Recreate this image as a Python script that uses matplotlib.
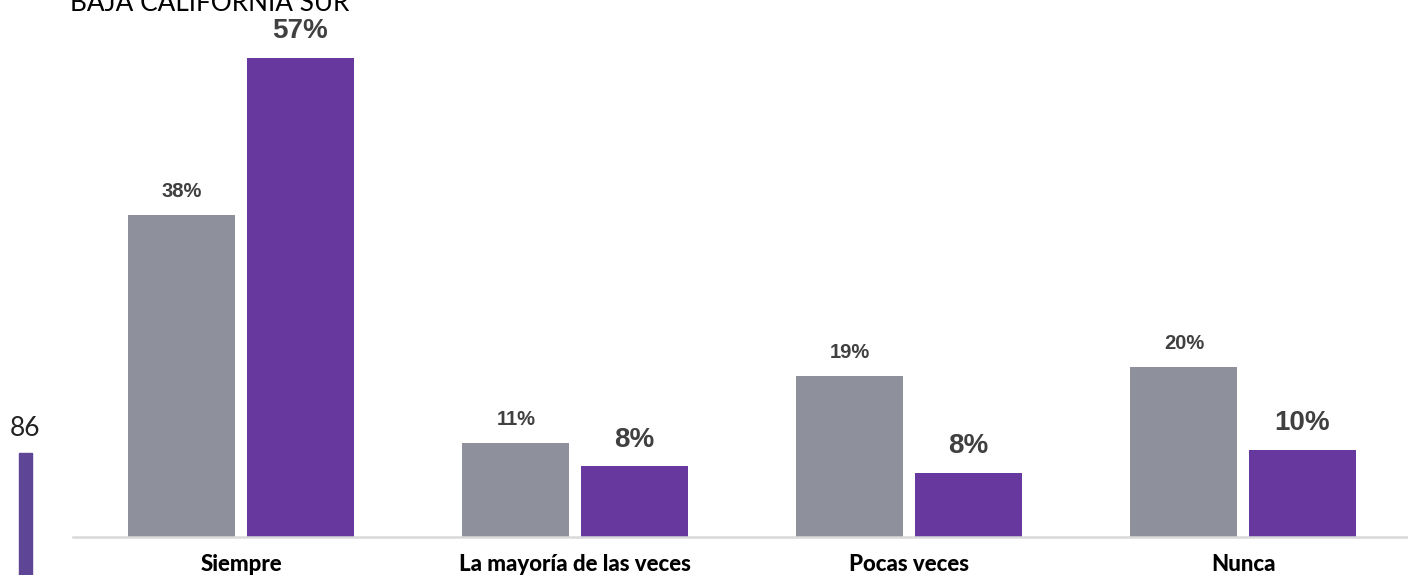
import matplotlib
matplotlib.use('Agg')

import matplotlib.pyplot as plt
import numpy as np
from matplotlib.patches import Rectangle

# Data
categories = ['Siempre', 'La mayoría de las veces', 'Pocas veces', 'Nunca']
gray_vals = [38.3, 11.2, 19.2, 20.2]
purple_vals = [57.0, 8.4, 7.6, 10.4]
gray_labels = ['38%', '11%', '19%', '20%']
purple_labels = ['57%', '8%', '8%', '10%']

gray = '#8e919c'
purple = '#67399f'

fig = plt.figure(figsize=(14.08, 5.75), dpi=100)
ax = fig.add_axes([73 / 1408, 38 / 575, 1 - 73 / 1408, 537 / 575])

x = np.arange(len(categories))
w = 0.32
off = 0.177
ax.bar(x - off, gray_vals, w, color=gray, zorder=2)
ax.bar(x + off, purple_vals, w, color=purple, zorder=2)

# value labels
for xi, v, lab in zip(x, gray_vals, gray_labels):
    ax.annotate(lab, (xi - off, v), xytext=(0, 10), textcoords='offset points',
                ha='center', va='bottom', fontsize=14.5, fontweight='bold',
                color='#404040', family='Liberation Sans')
for xi, v, lab in zip(x, purple_vals, purple_labels):
    ax.annotate(lab, (xi + off, v), xytext=(0, 10), textcoords='offset points',
                ha='center', va='bottom', fontsize=20, fontweight='bold',
                color='#404040', family='Liberation Sans')

ax.set_xlim(-0.503, 3.494)
ax.set_ylim(0, 63.9)
ax.set_xticks(x)
ax.set_xticklabels(categories, fontsize=16, fontweight='black', family='Lato')
ax.tick_params(axis='x', length=0, pad=12)
ax.set_yticks([])
for s in ['top', 'right', 'left']:
    ax.spines[s].set_visible(False)
ax.spines['bottom'].set_color('#d9d9d9')
ax.spines['bottom'].set_linewidth(1.8)

# title, cut off at the top of the slide
fig.text(70 / 1408, 1 - 11 / 575, 'BAJA CALIFORNIA SUR', fontsize=18.8,
         family='Lato', color='black', va='baseline', ha='left')

# leftover bits at the left edge
fig.text(25 / 1408, 1 - 428 / 575, '86', fontsize=19, family='Lato',
         color='#222222', ha='center', va='center')
fig.patches.append(Rectangle((19 / 1408, 0), 13 / 1408, 122 / 575,
                             transform=fig.transFigure, color='#5e4595',
                             figure=fig))

fig.savefig('out.png', dpi=100)
